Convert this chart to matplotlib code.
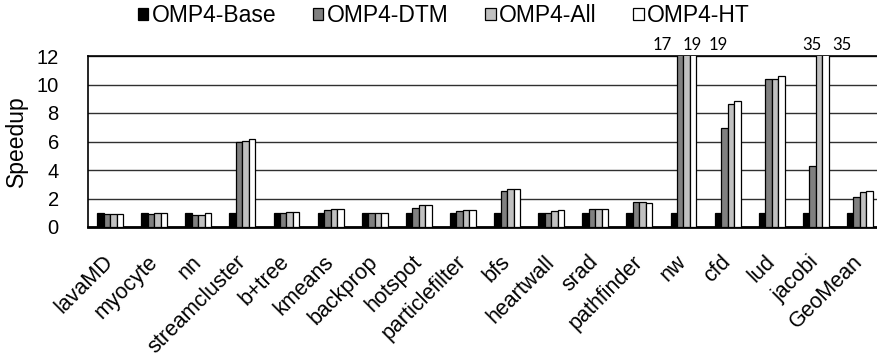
import matplotlib
matplotlib.use("Agg")
import matplotlib.pyplot as plt
from matplotlib.patches import Patch
import numpy as np

plt.rcParams['font.family'] = ['Liberation Sans', 'DejaVu Sans']

benchmarks = ["lavaMD", "myocyte", "nn", "streamcluster", "b+tree", "kmeans",
              "backprop", "hotspot", "particlefilter", "bfs", "heartwall", "srad",
              "pathfinder", "nw", "cfd", "lud", "jacobi", "GeoMean"]

series_names = ["OMP4-Base", "OMP4-DTM", "OMP4-All", "OMP4-HT"]

omp4_base = [1.0, 1.0, 1.0, 1.0, 1.0, 1.0, 1.0, 1.0, 1.0, 1.0, 1.0, 1.0,
             1.0, 1.0, 1.0, 1.0, 1.0, 1.0]
omp4_dtm = [0.92, 0.92, 0.87, 5.96, 1.0, 1.22, 0.97, 1.3, 1.13, 2.56, 1.0, 1.27,
            1.76, 17, 6.95, 10.42, 4.25, 2.09]
omp4_all = [0.94, 0.96, 0.87, 6.03, 1.05, 1.27, 0.98, 1.57, 1.22, 2.65, 1.13, 1.27,
            1.78, 19, 8.66, 10.42, 35, 2.49]
omp4_ht = [0.92, 0.96, 0.99, 6.15, 1.08, 1.28, 0.98, 1.57, 1.22, 2.65, 1.17, 1.29,
           1.67, 19, 8.87, 10.58, 35, 2.53]

series = [omp4_base, omp4_dtm, omp4_all, omp4_ht]
colors = ["#000000", "#808080", "#c0c0c0", "#ffffff"]

# values beyond the axis limit are printed above the clipped bars:
# (benchmark index, series index, horizontal shift in bar widths)
overflow_labels = [(13, 1, -2.8), (13, 2, 0.8), (13, 3, 3.8),
                   (16, 2, -1.1), (16, 3, 2.5)]

fig = plt.figure(figsize=(8.78, 3.64), dpi=100)
ax = fig.add_axes([88 / 878, 137 / 364, 794 / 878, 171 / 364])

x = np.arange(len(benchmarks))
bw = 0.147
for k, (vals, col, name) in enumerate(zip(series, colors, series_names)):
    ax.bar(x + (k - 1.5) * bw, vals, width=bw, color=col, edgecolor="black",
           linewidth=0.9, label=name, zorder=3)

ymax = 12
ax.set_ylim(0, ymax)
ax.set_xlim(-0.5, len(benchmarks) - 0.5)
ax.set_yticks(np.arange(0, 13, 2))
ax.yaxis.grid(True, color="#303030", linewidth=1.0, zorder=0)
ax.set_axisbelow(True)

for side in ["left", "top"]:
    ax.spines[side].set_linewidth(1.2)
ax.spines["bottom"].set_linewidth(2.0)
ax.spines["right"].set_visible(False)

ax.tick_params(axis="y", length=0, pad=21, labelsize=14.5)
ax.tick_params(axis="x", length=0, pad=23)
ax.set_xticks(x)
ax.set_xticklabels(benchmarks, rotation=45, ha="right", va="center",
                   rotation_mode="anchor", fontsize=15.5)
ax.set_ylabel("Speedup", fontsize=16.5, labelpad=6)

for gi, si, shift in overflow_labels:
    val = series[si][gi]
    xpos = gi + (si - 1.5) * bw + shift * bw
    ax.text(xpos, ymax + 0.8, f"{val:g}", ha="center", va="center",
            fontsize=12, family=["Lato", "DejaVu Sans"], clip_on=False)

handles = [Patch(facecolor=c, edgecolor="black", linewidth=0.9) for c in colors]
fig.legend(handles, series_names, loc="center", ncol=4,
           bbox_to_anchor=(444 / 878, 1 - 16 / 364), frameon=False,
           fontsize=16.5, handlelength=0.45, handleheight=0.45,
           handletextpad=0.15, columnspacing=1.6, borderaxespad=0)

fig.savefig("out.png", dpi=100)
